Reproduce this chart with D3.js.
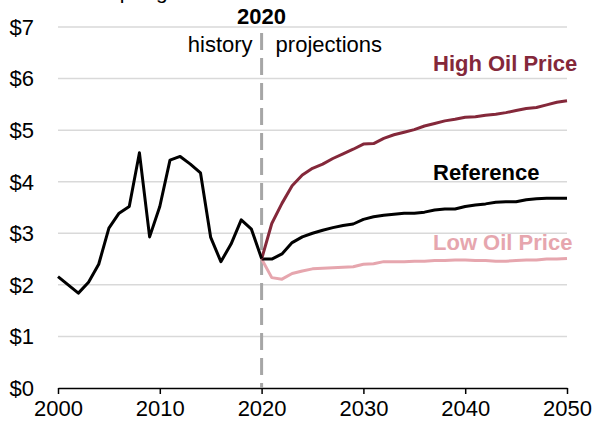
<!DOCTYPE html>
<html>
<head>
<meta charset="utf-8">
<script src="https://cdn.jsdelivr.net/npm/d3@7"></script>
<style>
html,body{margin:0;padding:0;background:#fff;}
svg{display:block;font-family:Arial,"Liberation Sans",sans-serif;}
</style>
</head>
<body>
<svg id="chart" width="600" height="430"></svg>
<script>
const historyYears = d3.range(2000, 2021);
const historyValues = [2.16,2.00,1.84,2.05,2.40,3.10,3.39,3.52,4.56,2.93,3.52,4.42,4.49,4.34,4.17,2.92,2.45,2.79,3.26,3.08,2.51];
const projYears = d3.range(2020, 2051);
const referenceValues = [2.50,2.50,2.60,2.82,2.93,3.00,3.06,3.11,3.15,3.18,3.27,3.32,3.35,3.37,3.39,3.39,3.41,3.45,3.47,3.47,3.52,3.55,3.57,3.60,3.61,3.61,3.65,3.67,3.68,3.68,3.68];
const highValues = [2.50,3.19,3.58,3.92,4.13,4.26,4.34,4.45,4.54,4.63,4.73,4.74,4.84,4.91,4.96,5.01,5.08,5.13,5.18,5.21,5.25,5.26,5.29,5.31,5.34,5.38,5.42,5.44,5.49,5.54,5.57];
const lowValues = [2.50,2.14,2.11,2.22,2.27,2.31,2.32,2.33,2.34,2.35,2.40,2.41,2.45,2.45,2.45,2.46,2.46,2.47,2.47,2.48,2.48,2.47,2.47,2.46,2.46,2.47,2.48,2.48,2.50,2.50,2.51];
const yTicks = [0,1,2,3,4,5,6,7];
const xTicks = [2000,2010,2020,2030,2040,2050];
const seriesNames = ["High Oil Price","Reference","Low Oil Price"];
const colors = {high:"#84283A", ref:"#000000", low:"#E6A6AE", grid:"#d9d9d9", divider:"#a6a6a6"};

const svg = d3.select("#chart");
const x = d3.scaleLinear().domain([2000,2050]).range([58,567]);
const y = d3.scaleLinear().domain([0,7]).range([388,27]);

// truncated unit label at top (cut off in the original too)
svg.append("text").attr("x",52).attr("y",-1).attr("font-size",21).attr("fill","#000").text("dollars per gallon");

// gridlines
svg.append("g").selectAll("line").data(yTicks.filter(d=>d>0)).join("line")
  .attr("x1",x(2000)).attr("x2",x(2050))
  .attr("y1",d=>y(d)).attr("y2",d=>y(d))
  .attr("stroke",colors.grid).attr("stroke-width",1.5);

// y labels
svg.append("g").selectAll("text").data(yTicks).join("text")
  .attr("x",34).attr("y",d=>y(d)).attr("dy","0.36em")
  .attr("text-anchor","end").attr("font-size",22).attr("fill","#000")
  .text(d=>"$"+d);

// x axis
const xAxis = d3.axisBottom(x).tickValues(xTicks).tickFormat(d3.format("d")).tickSizeInner(6).tickSizeOuter(0).tickPadding(6);
const gx = svg.append("g").attr("transform",`translate(0,${y(0)})`).call(xAxis);
gx.select(".domain").attr("stroke","#000").attr("stroke-width",1.5);
gx.selectAll(".tick line").attr("stroke","#000").attr("stroke-width",1.5);
gx.selectAll(".tick text").attr("font-size",22).attr("font-family","Arial,'Liberation Sans',sans-serif").attr("fill","#000");

// divider
svg.append("line").attr("x1",x(2020)).attr("x2",x(2020)).attr("y1",33).attr("y2",y(0))
  .attr("stroke",colors.divider).attr("stroke-width",3).attr("stroke-dasharray","17,8");
svg.append("text").attr("x",x(2020)).attr("y",24).attr("text-anchor","middle")
  .attr("font-size",22).attr("font-weight","bold").text("2020");
svg.append("text").attr("x",x(2020)-9).attr("y",52).attr("text-anchor","end")
  .attr("font-size",22).text("history");
svg.append("text").attr("x",x(2020)+14).attr("y",52).attr("text-anchor","start")
  .attr("font-size",22).text("projections");

const line = d3.line().x(d=>x(d[0])).y(d=>y(d[1]));
function draw(years, vals, color){
  svg.append("path").datum(years.map((yr,i)=>[yr,vals[i]]))
    .attr("d",line).attr("fill","none").attr("stroke",color)
    .attr("stroke-width",3).attr("stroke-linejoin","round");
}
draw(projYears, lowValues, colors.low);
draw(projYears, referenceValues, colors.ref);
draw(projYears, highValues, colors.high);
draw(historyYears, historyValues, colors.ref);

// labels
const labels = [
  {t:seriesNames[0], c:colors.high, v:6.14},
  {t:seriesNames[1], c:colors.ref, v:4.03},
  {t:seriesNames[2], c:colors.low, v:2.68}
];
svg.append("g").selectAll("text").data(labels).join("text")
  .attr("x",433).attr("y",d=>y(d.v)).attr("font-size",22).attr("font-weight","bold")
  .attr("fill",d=>d.c).text(d=>d.t);
</script>
</body>
</html>
